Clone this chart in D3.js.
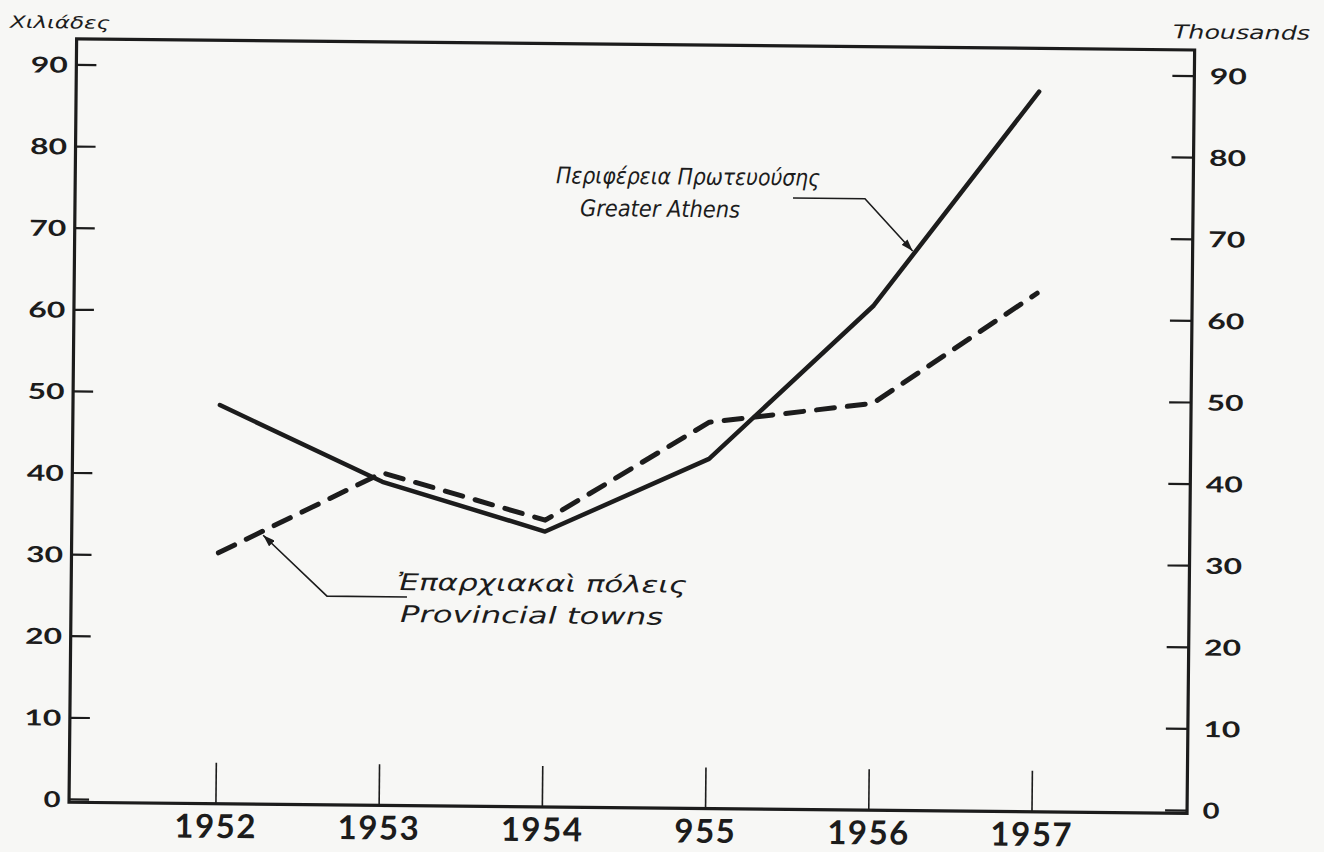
<!DOCTYPE html>
<html>
<head>
<meta charset="utf-8">
<script src="https://cdn.jsdelivr.net/npm/d3@7/dist/d3.min.js"></script>
<style>
  html, body { margin: 0; padding: 0; background: #f7f7f5; }
  svg { display: block; }
</style>
</head>
<body>
<script>
// ---- data ----
const years = [1952, 1953, 1954, 1955, 1956, 1957];
const yearLabels = ["1952", "1953", "1954", "955", "1956", "1957"];
const greaterAthens = [48.5, 39.3, 33.4, 42.5, 61.5, 87.9];
const provincialTowns = [30.4, 40.4, 34.8, 47.0, 49.5, 63.2];
const yTicks = [0, 10, 20, 30, 40, 50, 60, 70, 80, 90];
const leftTitle = "Χιλιάδες";
const rightTitle = "Thousands";
const athensLabel = ["Περιφέρεια Πρωτευούσης", "Greater Athens"];
const provLabel = ["Ἐπαρχιακαὶ πόλεις", "Provincial towns"];

// ---- layout ----
const W = 1324, H = 852;
const ink = "#1c1c1c";
const svg = d3.select("body").append("svg").attr("width", W).attr("height", H);
svg.append("rect").attr("width", W).attr("height", H).attr("fill", "#f7f7f5");

const g = svg.append("g").attr("transform", "rotate(0.57,632,426)");

const x = d3.scaleLinear().domain([1952, 1957]).range([219.7, 1035.8]);
const y = d3.scaleLinear().domain([0, 90]).range([805, 70.5]);

const fx0 = x(1951.1), fx1 = x(1957.95);
const fy0 = y(93.2), fy1 = y(-0.35);

// frame
g.append("rect")
  .attr("x", fx0).attr("y", fy0)
  .attr("width", fx1 - fx0).attr("height", fy1 - fy0)
  .attr("fill", "none").attr("stroke", ink).attr("stroke-width", 3.2);

// y ticks left & right
g.selectAll(".tl").data(yTicks).enter().append("line")
  .attr("x1", fx0).attr("x2", fx0 + 20)
  .attr("y1", d => y(d)).attr("y2", d => y(d))
  .attr("stroke", ink).attr("stroke-width", 2.2);
g.selectAll(".tr").data(yTicks).enter().append("line")
  .attr("x1", fx1 - 22).attr("x2", fx1)
  .attr("y1", d => y(d)).attr("y2", d => y(d))
  .attr("stroke", ink).attr("stroke-width", 2.2);

const numFont = "Lato, 'DejaVu Sans', sans-serif";
g.selectAll(".ll").data(yTicks).enter().append("text")
  .attr("x", fx0 - 8.5).attr("y", d => y(d))
  .attr("dy", "0.36em")
  .attr("text-anchor", "end")
  .attr("font-family", numFont).attr("font-weight", 700).attr("font-size", 22)
  .attr("textLength", d => String(d).length > 1 ? 37 : 17)
  .attr("lengthAdjust", "spacingAndGlyphs")
  .attr("fill", ink)
  .text(d => d);
g.selectAll(".rl").data(yTicks).enter().append("text")
  .attr("x", fx1 + 15.5).attr("y", d => y(d))
  .attr("dy", "0.36em")
  .attr("text-anchor", "start")
  .attr("font-family", numFont).attr("font-weight", 700).attr("font-size", 22)
  .attr("textLength", d => String(d).length > 1 ? 37 : 17)
  .attr("lengthAdjust", "spacingAndGlyphs")
  .attr("fill", ink)
  .text(d => d);

// x ticks
g.selectAll(".xt").data(years).enter().append("line")
  .attr("x1", d => x(d)).attr("x2", d => x(d))
  .attr("y1", fy1).attr("y2", fy1 - 41)
  .attr("stroke", ink).attr("stroke-width", 1.6);
g.selectAll(".xl").data(years).enter().append("text")
  .attr("x", d => x(d)).attr("y", 842)
  .attr("text-anchor", "middle")
  .attr("font-family", numFont).attr("font-weight", 700).attr("font-size", 33)
  .attr("letter-spacing", 1.5)
  .attr("fill", ink)
  .text((d, i) => yearLabels[i]);

// axis titles
const annFont = "'DejaVu Sans', sans-serif";
g.append("text").attr("x", 6).attr("y", 34)
  .attr("font-family", annFont).attr("font-style", "italic").attr("font-size", 17)
  .attr("textLength", 100).attr("lengthAdjust", "spacingAndGlyphs")
  .attr("fill", ink).text(leftTitle);
g.append("text").attr("x", 1169).attr("y", 33)
  .attr("font-family", annFont).attr("font-style", "italic").attr("font-size", 19)
  .attr("textLength", 137).attr("lengthAdjust", "spacingAndGlyphs")
  .attr("fill", ink).text(rightTitle);

// data lines
const line = d3.line().x(d => x(d[0])).y(d => y(d[1]));
const athensPts = years.map((yr, i) => [yr, greaterAthens[i]]);
const provPts = years.map((yr, i) => [yr, provincialTowns[i]]);

g.append("path").attr("d", line(provPts))
  .attr("fill", "none").attr("stroke", ink).attr("stroke-width", 5)
  .attr("stroke-dasharray", "18,13").attr("stroke-linecap", "round")
  .attr("stroke-linejoin", "round");
g.append("path").attr("d", line(athensPts))
  .attr("fill", "none").attr("stroke", ink).attr("stroke-width", 4.5)
  .attr("stroke-linecap", "round").attr("stroke-linejoin", "round");

// arrow marker
const defs = svg.append("defs");
defs.append("marker").attr("id", "arr")
  .attr("markerUnits", "userSpaceOnUse")
  .attr("markerWidth", 12).attr("markerHeight", 8)
  .attr("refX", 12).attr("refY", 4).attr("orient", "auto")
  .append("path").attr("d", "M0,0 L12,4 L0,8 Z").attr("fill", ink);

function onSeg(vals, i, t) {
  return [x(years[i]) + t * (x(years[i + 1]) - x(years[i])),
          y(vals[i]) + t * (y(vals[i + 1]) - y(vals[i]))];
}
// Greater Athens leader
const tipA = onSeg(greaterAthens, 4, 0.25);
g.append("path")
  .attr("d", `M790.7,196.4 H862.7 L${tipA[0] - 2.5},${tipA[1] - 1}`)
  .attr("fill", "none").attr("stroke", ink).attr("stroke-width", 1.6)
  .attr("marker-end", "url(#arr)");
// Provincial leader
const tipP = onSeg(provincialTowns, 0, 0.27);
g.append("path")
  .attr("d", `M408.7,599.2 H328.7 L${tipP[0] + 0.5},${tipP[1] + 4}`)
  .attr("fill", "none").attr("stroke", ink).attr("stroke-width", 1.6)
  .attr("marker-end", "url(#arr)");

// annotation texts
function ann(txt, xx, yy, len) {
  g.append("text").attr("x", xx).attr("y", yy)
    .attr("font-family", annFont).attr("font-style", "italic")
    .attr("font-weight", 300).attr("font-size", 23)
    .attr("textLength", len).attr("lengthAdjust", "spacingAndGlyphs")
    .attr("fill", ink).text(txt);
}
ann(athensLabel[0], 553.6, 184, 264);
ann(athensLabel[1], 577.9, 216.5, 160);
ann(provLabel[0], 398.6, 592.3, 290);
ann(provLabel[1], 402, 624.3, 263);
</script>
</body>
</html>
